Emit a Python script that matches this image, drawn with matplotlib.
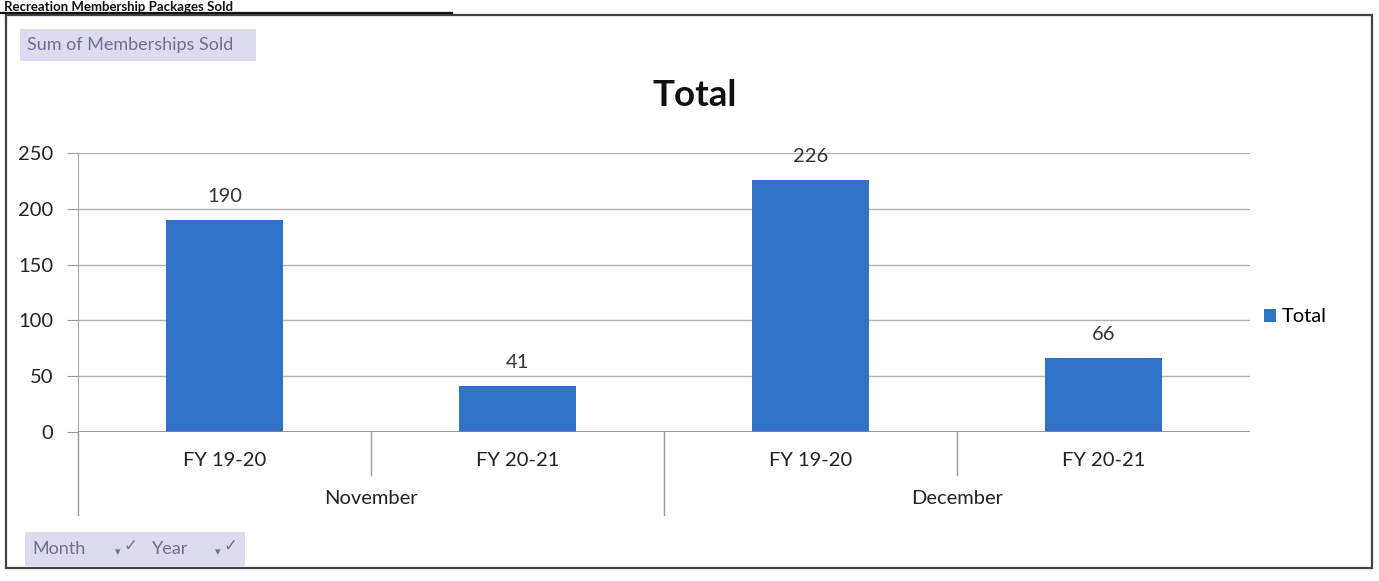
import matplotlib
matplotlib.use("Agg")
import matplotlib.pyplot as plt
from matplotlib.patches import Rectangle
import matplotlib.transforms as mtransforms

plt.rcParams['font.family'] = ['Lato', 'DejaVu Sans']

# ---- data ----
months = ["November", "December"]
years = ["FY 19-20", "FY 20-21"]
values = [190, 41, 226, 66]
yticks = [0, 50, 100, 150, 200, 250]
series_name = "Total"

W, H = 1379, 581
fig = plt.figure(figsize=(W / 100, H / 100), dpi=100)

def fx(px):
    return px / W

def fy(py):
    return 1 - py / H

# outer frame
fig.patches.append(Rectangle((fx(6), fy(568)), fx(1366), fy(15) - fy(568),
                             transform=fig.transFigure, fill=False,
                             edgecolor='#444444', linewidth=1.6))
# heading above the frame
fig.text(fx(4), fy(11), "Recreation Membership Packages Sold", fontsize=9.5,
         fontweight='bold', ha='left', va='baseline', color='#111111')
fig.lines.append(plt.Line2D([fx(0), fx(452)], [fy(12.5), fy(12.5)],
                            transform=fig.transFigure, color='#111111', linewidth=1.6))

# field buttons
def button(x0, y0, x1, y1, label, arrow=False):
    fig.patches.append(Rectangle((fx(x0), fy(y1)), fx(x1 - x0), fy(y0) - fy(y1),
                                 transform=fig.transFigure, facecolor='#dcdcee',
                                 edgecolor='none'))
    fig.text(fx(x0 + 7), fy((y0 + y1) / 2), label, fontsize=13, color='#6e6e96',
             ha='left', va='center')
    if arrow:
        fig.text(fx(x1 - 8), fy((y0 + y1) / 2 - 3), "\u2713", fontsize=12,
                 color='#6e6e96', ha='right', va='center', family=['DejaVu Sans'])
        fig.text(fx(x1 - 27), fy((y0 + y1) / 2 + 3), "\u25be", fontsize=8,
                 color='#6e6e96', ha='center', va='center', family=['DejaVu Sans'])

button(20, 29, 256, 61, "Sum of Memberships Sold")
button(25, 532, 145, 566, "Month", arrow=True)
button(145, 532, 245, 566, "Year", arrow=True)

# axes
left, right, top, bottom = 78, 1250, 153, 432
ax = fig.add_axes([fx(left), fy(bottom), fx(right - left), fy(top) - fy(bottom)])
x = list(range(len(values)))
ax.bar(x, values, width=0.4, color='#2f72c8', zorder=3, label=series_name)
ax.set_xlim(-0.5, len(values) - 0.5)
ax.set_ylim(0, 250)
ax.set_yticks(yticks)
ax.set_yticklabels([str(v) for v in yticks], fontsize=14.5, color='#222222')
ax.tick_params(axis='y', length=8, color='#999999', pad=10)
ax.set_xticks([])
for s in ['top', 'right', 'bottom']:
    ax.spines[s].set_visible(False)
ax.spines['left'].set_color('#aaaaaa')
ax.grid(axis='y', color='#b0b0b0', linewidth=1, zorder=0)
ax.axhline(0, color='#888888', linewidth=1.2, zorder=4)

for xi, v in zip(x, values):
    ax.annotate(str(v), (xi, v), xytext=(0, 11), textcoords='offset points',
                ha='center', va='bottom', fontsize=14.5, color='#333333')

trans = mtransforms.blended_transform_factory(ax.transData, ax.transAxes)

def ay(py):
    return (bottom - py) / (bottom - top)

for mi, m in enumerate(months):
    for yi, yr in enumerate(years):
        xi = mi * len(years) + yi
        ax.text(xi, ay(460), yr, transform=trans, ha='center', va='center',
                fontsize=14.5, color='#222222')
    center = mi * len(years) + (len(years) - 1) / 2
    ax.text(center, ay(499), m, transform=trans, ha='center', va='center',
            fontsize=14.5, color='#222222')
    # separators
    ax.plot([mi * len(years) - 0.5] * 2, [0, ay(515)], transform=trans,
            color='#999999', linewidth=1, clip_on=False)
    for yi in range(1, len(years)):
        xs = mi * len(years) + yi - 0.5
        ax.plot([xs] * 2, [0, ay(475)], transform=trans, color='#999999',
                linewidth=1, clip_on=False)

ax.legend(loc='center left', bbox_to_anchor=(1.0, ay(317)), frameon=False,
          fontsize=14.5, handlelength=0.6, handleheight=0.6, handletextpad=0.3,
          borderaxespad=0.3)

fig.text(fx(695), fy(96), "Total", fontsize=26.5, fontweight='bold',
         ha='center', va='center', color='#111111')

fig.savefig("out.png", dpi=100)
